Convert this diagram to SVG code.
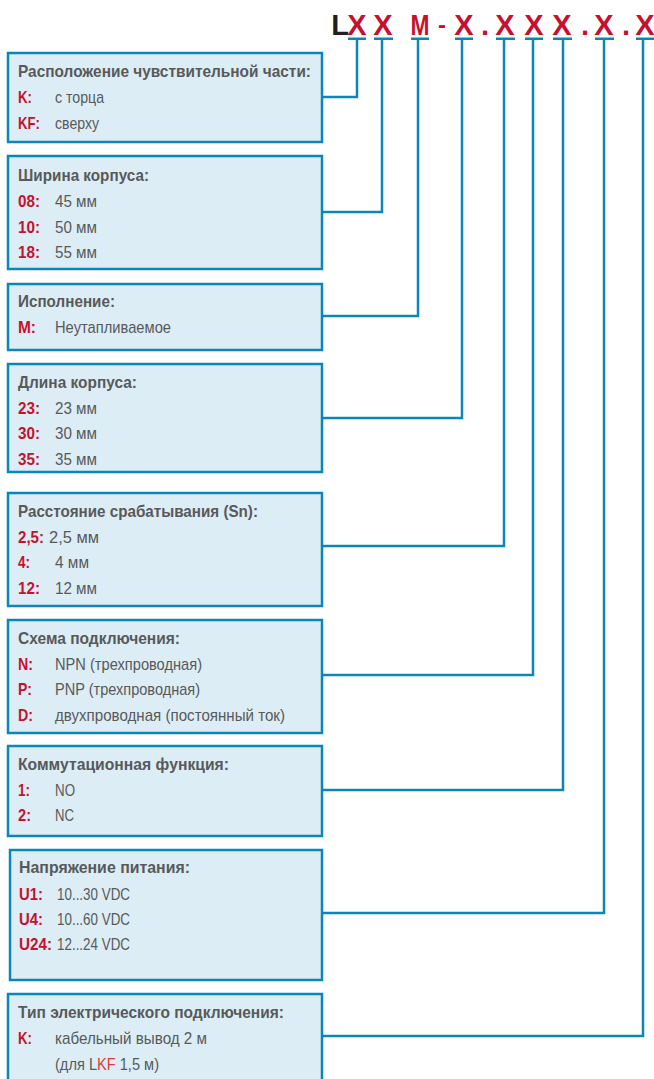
<svg xmlns="http://www.w3.org/2000/svg" width="654" height="1079" viewBox="0 0 654 1079">
  <style>
    .box { fill: #dcedf5; stroke: #0a86ba; stroke-width: 2.5; }
    .wire { fill: none; stroke: #0a86ba; stroke-width: 2.5; }
    .bar { fill: #0a86ba; }
    .code { font-family: "Liberation Sans", Arial, sans-serif; font-weight: bold; font-size: 29px; fill: #c8102e; text-anchor: middle; }
    .t { font-family: "Liberation Sans", Arial, sans-serif; font-size: 17px; fill: #58595b; }
    .h { font-weight: bold; }
    .k { font-weight: bold; fill: #c8102e; }
    .r { fill: #e03a3e; }
  </style>

  <!-- type code -->
  <g id="code">
    <text class="code" x="340" y="35" style="fill:#231f20">L</text>
    <text class="code" x="357" y="35">X</text>
    <text class="code" x="383" y="35">X</text>
    <text class="code" x="420" y="35" textLength="19" lengthAdjust="spacingAndGlyphs">M</text>
    <text class="code" x="442" y="33" style="font-size:24px">-</text>
    <text class="code" x="464" y="35">X</text>
    <text class="code" x="485" y="35">.</text>
    <text class="code" x="505" y="35">X</text>
    <text class="code" x="534" y="35">X</text>
    <text class="code" x="562" y="35">X</text>
    <text class="code" x="585" y="35">.</text>
    <text class="code" x="604" y="35">X</text>
    <text class="code" x="626" y="35">.</text>
    <text class="code" x="645" y="35">X</text>
    <rect class="bar" x="348" y="37.5" width="18" height="2.5"/>
    <rect class="bar" x="374" y="37.5" width="19" height="2.5"/>
    <rect class="bar" x="411" y="37.5" width="18" height="2.5"/>
    <rect class="bar" x="455" y="37.5" width="18" height="2.5"/>
    <rect class="bar" x="496" y="37.5" width="19" height="2.5"/>
    <rect class="bar" x="525" y="37.5" width="18" height="2.5"/>
    <rect class="bar" x="553" y="37.5" width="19" height="2.5"/>
    <rect class="bar" x="595" y="37.5" width="19" height="2.5"/>
    <rect class="bar" x="636" y="37.5" width="18" height="2.5"/>
  </g>

  <!-- leader lines from code positions to boxes -->
  <g id="connectors">
    <polyline class="wire" points="357,39 357,97 322,97"/>
    <polyline class="wire" points="382,39 382,212 322,212"/>
    <polyline class="wire" points="418,39 418,316 322,316"/>
    <polyline class="wire" points="462,39 462,418 322,418"/>
    <polyline class="wire" points="504,39 504,546 322,546"/>
    <polyline class="wire" points="533,39 533,675 322,675"/>
    <polyline class="wire" points="563,39 563,790 322,790"/>
    <polyline class="wire" points="604,39 604,913 322,913"/>
    <polyline class="wire" points="643,39 643,1036 322,1036"/>
  </g>

  <g id="box-sensing">
    <rect class="box" x="8" y="53" width="314" height="89"/>
    <text class="t h" x="18" y="77" textLength="293" lengthAdjust="spacingAndGlyphs">Расположение чувствительной части:</text>
    <text class="t k" x="18" y="103" textLength="14" lengthAdjust="spacingAndGlyphs">K:</text>
    <text class="t" x="55" y="103" textLength="49" lengthAdjust="spacingAndGlyphs">с торца</text>
    <text class="t k" x="18" y="129" textLength="22" lengthAdjust="spacingAndGlyphs">KF:</text>
    <text class="t" x="55" y="129" textLength="44" lengthAdjust="spacingAndGlyphs">сверху</text>
  </g>

  <g id="box-width">
    <rect class="box" x="8" y="156" width="314" height="113"/>
    <text class="t h" x="18" y="181" textLength="131" lengthAdjust="spacingAndGlyphs">Ширина корпуса:</text>
    <text class="t k" x="18" y="207" textLength="22" lengthAdjust="spacingAndGlyphs">08:</text>
    <text class="t" x="55" y="207" textLength="42" lengthAdjust="spacingAndGlyphs">45 мм</text>
    <text class="t k" x="18" y="233" textLength="22" lengthAdjust="spacingAndGlyphs">10:</text>
    <text class="t" x="55" y="233" textLength="42" lengthAdjust="spacingAndGlyphs">50 мм</text>
    <text class="t k" x="18" y="258" textLength="22" lengthAdjust="spacingAndGlyphs">18:</text>
    <text class="t" x="55" y="258" textLength="42" lengthAdjust="spacingAndGlyphs">55 мм</text>
  </g>

  <g id="box-version">
    <rect class="box" x="8" y="284" width="314" height="66"/>
    <text class="t h" x="18" y="307" textLength="97" lengthAdjust="spacingAndGlyphs">Исполнение:</text>
    <text class="t k" x="18" y="333" textLength="18" lengthAdjust="spacingAndGlyphs">M:</text>
    <text class="t" x="55" y="333" textLength="116" lengthAdjust="spacingAndGlyphs">Неутапливаемое</text>
  </g>

  <g id="box-length">
    <rect class="box" x="8" y="364" width="314" height="108"/>
    <text class="t h" x="18" y="388" textLength="119" lengthAdjust="spacingAndGlyphs">Длина корпуса:</text>
    <text class="t k" x="18" y="414" textLength="22" lengthAdjust="spacingAndGlyphs">23:</text>
    <text class="t" x="55" y="414" textLength="42" lengthAdjust="spacingAndGlyphs">23 мм</text>
    <text class="t k" x="18" y="439" textLength="22" lengthAdjust="spacingAndGlyphs">30:</text>
    <text class="t" x="55" y="439" textLength="42" lengthAdjust="spacingAndGlyphs">30 мм</text>
    <text class="t k" x="18" y="465" textLength="22" lengthAdjust="spacingAndGlyphs">35:</text>
    <text class="t" x="55" y="465" textLength="42" lengthAdjust="spacingAndGlyphs">35 мм</text>
  </g>

  <g id="box-range">
    <rect class="box" x="8" y="493" width="314" height="113"/>
    <text class="t h" x="18" y="517" textLength="240" lengthAdjust="spacingAndGlyphs">Расстояние срабатывания (Sn):</text>
    <text class="t k" x="18" y="543" textLength="26" lengthAdjust="spacingAndGlyphs">2,5:</text>
    <text class="t" x="49" y="543" textLength="50" lengthAdjust="spacingAndGlyphs">2,5 мм</text>
    <text class="t k" x="18" y="568" textLength="12" lengthAdjust="spacingAndGlyphs">4:</text>
    <text class="t" x="55" y="568" textLength="34" lengthAdjust="spacingAndGlyphs">4 мм</text>
    <text class="t k" x="18" y="594" textLength="22" lengthAdjust="spacingAndGlyphs">12:</text>
    <text class="t" x="55" y="594" textLength="42" lengthAdjust="spacingAndGlyphs">12 мм</text>
  </g>

  <g id="box-wiring">
    <rect class="box" x="8" y="620" width="314" height="113"/>
    <text class="t h" x="18" y="644" textLength="162" lengthAdjust="spacingAndGlyphs">Схема подключения:</text>
    <text class="t k" x="18" y="670" textLength="15" lengthAdjust="spacingAndGlyphs">N:</text>
    <text class="t" x="55" y="670" textLength="147" lengthAdjust="spacingAndGlyphs">NPN (трехпроводная)</text>
    <text class="t k" x="18" y="695" textLength="14" lengthAdjust="spacingAndGlyphs">P:</text>
    <text class="t" x="55" y="695" textLength="145" lengthAdjust="spacingAndGlyphs">PNP (трехпроводная)</text>
    <text class="t k" x="18" y="721" textLength="15" lengthAdjust="spacingAndGlyphs">D:</text>
    <text class="t" x="55" y="721" textLength="230" lengthAdjust="spacingAndGlyphs">двухпроводная (постоянный ток)</text>
  </g>

  <g id="box-function">
    <rect class="box" x="8" y="746" width="314" height="90"/>
    <text class="t h" x="18" y="770" textLength="211" lengthAdjust="spacingAndGlyphs">Коммутационная функция:</text>
    <text class="t k" x="18" y="796" textLength="12" lengthAdjust="spacingAndGlyphs">1:</text>
    <text class="t" x="55" y="796" textLength="20" lengthAdjust="spacingAndGlyphs">NO</text>
    <text class="t k" x="18" y="821" textLength="13" lengthAdjust="spacingAndGlyphs">2:</text>
    <text class="t" x="55" y="821" textLength="19" lengthAdjust="spacingAndGlyphs">NC</text>
  </g>

  <g id="box-supply">
    <rect class="box" x="10" y="850" width="312" height="130"/>
    <text class="t h" x="19" y="873" textLength="171" lengthAdjust="spacingAndGlyphs">Напряжение питания:</text>
    <text class="t k" x="19" y="900" textLength="24" lengthAdjust="spacingAndGlyphs">U1:</text>
    <text class="t" x="57" y="900" textLength="73" lengthAdjust="spacingAndGlyphs">10...30 VDC</text>
    <text class="t k" x="19" y="925" textLength="24" lengthAdjust="spacingAndGlyphs">U4:</text>
    <text class="t" x="57" y="925" textLength="73" lengthAdjust="spacingAndGlyphs">10...60 VDC</text>
    <text class="t k" x="19" y="950" textLength="33" lengthAdjust="spacingAndGlyphs">U24:</text>
    <text class="t" x="57" y="950" textLength="73" lengthAdjust="spacingAndGlyphs">12...24 VDC</text>
  </g>

  <g id="box-connection">
    <rect class="box" x="8" y="994" width="314" height="100"/>
    <text class="t h" x="18" y="1018" textLength="266" lengthAdjust="spacingAndGlyphs">Тип электрического подключения:</text>
    <text class="t k" x="18" y="1044" textLength="14" lengthAdjust="spacingAndGlyphs">K:</text>
    <text class="t" x="55" y="1044" textLength="152" lengthAdjust="spacingAndGlyphs">кабельный вывод 2 м</text>
    <text class="t" transform="translate(55,1070) scale(0.86,1)">(для L<tspan class="r">KF</tspan> 1,5 м)</text>
  </g>
</svg>
